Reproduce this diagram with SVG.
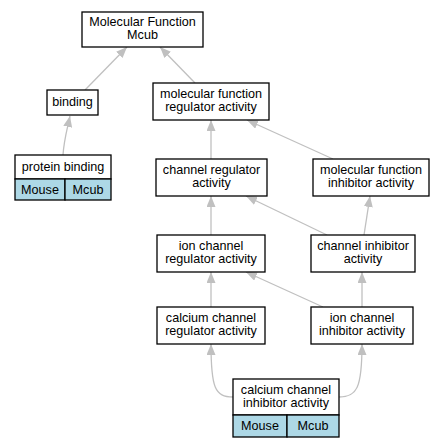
<svg xmlns="http://www.w3.org/2000/svg" width="444" height="448" viewBox="0 0 444 448">
<style>
.n rect{fill:#fff;stroke:#000;stroke-width:1.3}
.n rect.sp{fill:#add8e6}
.n text{font-family:"Liberation Sans",Arial,sans-serif;font-size:12.6px;text-anchor:middle;fill:#000}
.e path{fill:none;stroke:#c0c0c0;stroke-width:1.3;marker-end:url(#ah)}
</style>
<defs>
<marker id="ah" viewBox="0 0 11 9" refX="11" refY="4.5" markerWidth="11" markerHeight="9" markerUnits="userSpaceOnUse" orient="auto">
<path d="M0,0 L11,4.5 L0,9 z" fill="#c0c0c0"/>
</marker>
</defs>
<rect width="444" height="448" fill="#fff"/>
<g id="edges" class="e">
<path d="M85,90 L127,47"/>
<path d="M195,83 L160,47"/>
<path d="M63,155 C64,140 67,130 70,116"/>
<path d="M211,159 L211,120"/>
<path d="M333,159 L247,120"/>
<path d="M211,235 L211,196"/>
<path d="M327,235 L246,196"/>
<path d="M364,235 L370,196"/>
<path d="M211,307 L211,272"/>
<path d="M323,307 L246,272"/>
<path d="M362,307 L362,272"/>
<path d="M233,397 C215,397 211,388 211,344"/>
<path d="M339,397 C357,397 362,388 362,344"/>
</g>
<g id="mf" class="n"><rect x="82" y="12" width="121" height="35"/><text x="142.5" y="26">Molecular Function</text><text x="142.5" y="38.5">Mcub</text></g>
<g id="binding" class="n"><rect x="47" y="90" width="51" height="25"/><text x="72.5" y="106">binding</text></g>
<g id="protein_binding" class="n"><rect x="15" y="155" width="96" height="24"/><rect class="sp" x="15" y="179" width="50" height="21"/><rect class="sp" x="65" y="179" width="46" height="21"/><text x="63" y="171">protein binding</text><text x="40" y="194">Mouse</text><text x="88" y="194">Mcub</text></g>
<g id="mf_reg" class="n"><rect x="153" y="83" width="116" height="37"/><text x="211" y="98">molecular function</text><text x="211" y="111">regulator activity</text></g>
<g id="ch_reg" class="n"><rect x="156" y="159" width="111" height="37"/><text x="211.5" y="174">channel regulator</text><text x="211.5" y="187">activity</text></g>
<g id="mf_inh" class="n"><rect x="313" y="159" width="116" height="37"/><text x="371" y="174">molecular function</text><text x="371" y="187">inhibitor activity</text></g>
<g id="ion_ch_reg" class="n"><rect x="157" y="235" width="108" height="37"/><text x="211" y="250">ion channel</text><text x="211" y="263">regulator activity</text></g>
<g id="ch_inh" class="n"><rect x="311" y="235" width="104" height="37"/><text x="363" y="250">channel inhibitor</text><text x="363" y="263">activity</text></g>
<g id="ca_ch_reg" class="n"><rect x="157" y="307" width="108" height="37"/><text x="211" y="322">calcium channel</text><text x="211" y="335">regulator activity</text></g>
<g id="ion_ch_inh" class="n"><rect x="311" y="307" width="102" height="37"/><text x="362" y="322">ion channel</text><text x="362" y="335">inhibitor activity</text></g>
<g id="ca_ch_inh" class="n"><rect x="233" y="379" width="106" height="36"/><rect class="sp" x="233" y="415" width="54" height="22"/><rect class="sp" x="287" y="415" width="52" height="22"/><text x="286" y="394">calcium channel</text><text x="286" y="407">inhibitor activity</text><text x="260" y="430">Mouse</text><text x="313" y="430">Mcub</text></g>
</svg>
